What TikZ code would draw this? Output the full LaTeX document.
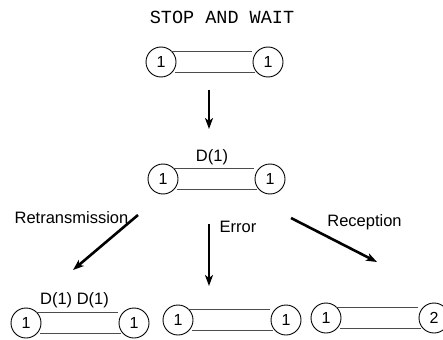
\documentclass[tikz,border=0pt]{standalone}
\usepackage{fontspec}
\setmainfont{Liberation Sans}
\newfontfamily\titlefont{Liberation Mono}
\usetikzlibrary{calc,arrows.meta}

\tikzset{
  station/.style={circle, draw, line width=0.9pt, minimum size=30pt, inner sep=0pt,
                  font=\fontsize{16}{18}\selectfont},
  wire/.style={draw=black!70, line width=0.9pt},
  flow/.style={line width=2.6pt, -{Stealth[length=11pt, width=8pt, inset=3pt]}},
  lbl/.style={inner sep=0pt, anchor=base, font=\fontsize{16.5}{19}\selectfont},
}

% two parallel wires between a pair of stations
\newcommand\linkpair[2]{%
  \draw[wire] ($(#1.center)+(10,-10.5)$) -- ($(#2.center)+(-16,-10.5)$);
  \draw[wire] ($(#1.center)+(14,10.5)$) -- ($(#2.center)+(-13,10.5)$);
}

\begin{document}
\begin{tikzpicture}[x=1pt, y=-1pt]
  \useasboundingbox (0,0) rectangle (443,339);

  \node[inner sep=0pt, anchor=base, font=\titlefont\fontsize{18.5}{20}\selectfont]
    (title) at (222,23.3) {STOP AND WAIT};

  % initial state
  \node[station] (s0) at (161,62) {1};
  \node[station] (r0) at (268,62) {1};
  \linkpair{s0}{r0}

  % frame sent
  \node[station] (s1) at (163,179) {1};
  \node[station] (r1) at (270,179) {1};
  \linkpair{s1}{r1}
  \node[lbl] (d1) at (212,161.7) {D(1)};

  % retransmission
  \node[station] (sa) at (26,323) {1};
  \node[station] (ra) at (134,323) {1};
  \linkpair{sa}{ra}
  \node[lbl] (da) at (74.5,304) {D(1) D(1)};

  % error
  \node[station] (sb) at (178,320) {1};
  \node[station] (rb) at (286,320) {1};
  \linkpair{sb}{rb}

  % reception
  \node[station] (sc) at (326,318) {1};
  \node[station] (rc) at (434,318) {2};
  \linkpair{sc}{rc}

  % transitions
  \coordinate (a0) at (209,90);   \coordinate (a1) at (209,129);
  \coordinate (b0) at (138,215);  \coordinate (b1) at (73,270);
  \coordinate (c0) at (209,224);  \coordinate (c1) at (209,286);
  \coordinate (e0) at (291,218);  \coordinate (e1) at (377,262);
  \draw[flow] (a0) -- (a1);
  \draw[flow] (b0) -- (b1);
  \draw[flow] (c0) -- (c1);
  \draw[flow] (e0) -- (e1);

  \node[lbl] (lr) at (71.5,223) {Retransmission};
  \node[lbl] (le) at (238,232.7) {Error};
  \node[lbl] (lc) at (364.5,226.7) {Reception};
\end{tikzpicture}
\end{document}
